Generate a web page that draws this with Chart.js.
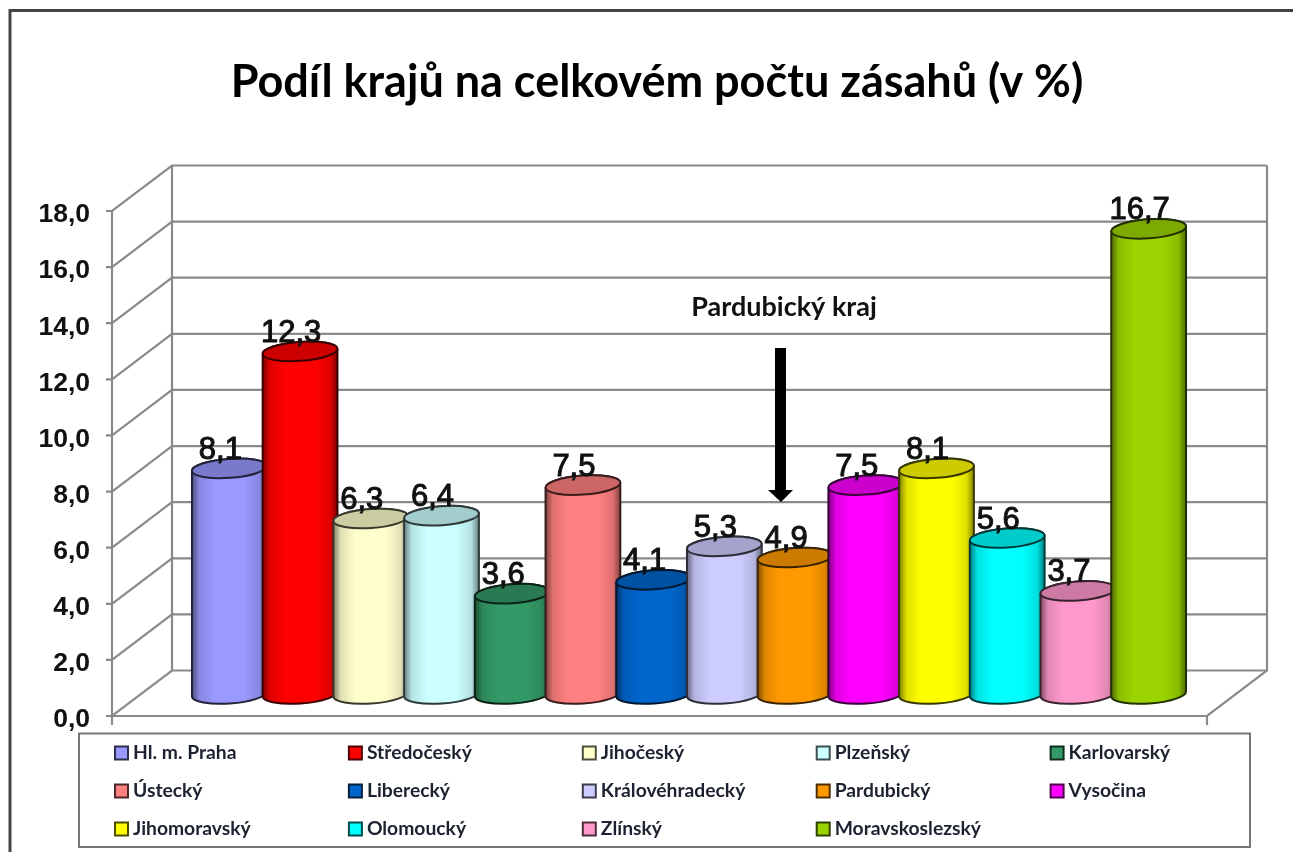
<!DOCTYPE html>
<html lang="cs">
<head>
    <meta charset="UTF-8">
    <title>Podíl krajů na celkovém počtu zásahů</title>
    <script src="https://cdn.jsdelivr.net/npm/chart.js"></script>
    <style>
        html, body { margin: 0; padding: 0; background: #fff; }
        canvas { display: block; filter: blur(0.7px); }
    </style>
</head>
<body>
    <canvas id="myChart" width="1293" height="852"></canvas>

    <script>
        const titleText = 'Podíl krajů na celkovém počtu zásahů (v %)';
        const noteText = 'Pardubický kraj';
        const regions = ['Hl. m. Praha', 'Středočeský', 'Jihočeský', 'Plzeňský', 'Karlovarský',
            'Ústecký', 'Liberecký', 'Královéhradecký', 'Pardubický', 'Vysočina',
            'Jihomoravský', 'Olomoucký', 'Zlínský', 'Moravskoslezský'];
        const shares = [8.1, 12.3, 6.3, 6.4, 3.6, 7.5, 4.1, 5.3, 4.9, 7.5, 8.1, 5.6, 3.7, 16.7];
        const barColors = ['#9999FF', '#FF0000', '#FFFFCC', '#CCFFFF', '#339966', '#FF8080', '#0066CC',
            '#CCCCFF', '#FF9900', '#FF00FF', '#FFFF00', '#00FFFF', '#FF99CC', '#9BD400'];

        const comma = (v, d) => v.toFixed(d).replace('.', ',');

        // posun barvy k cerne
        function shade(hex, f) {
            const n = parseInt(hex.slice(1), 16);
            const c = [n >> 16, (n >> 8) & 255, n & 255].map(x => Math.round(x * f));
            return `rgb(${c[0]},${c[1]},${c[2]})`;
        }

        const GRID = '#8a8a8a';
        const FRONT_X = 112, FRONT_R = 1207, DEPTH_X = 60, DEPTH_Y = 45.5;
        const RY = 9.5, TILT = 0.07;

        function drawWalls(chart) {
            const ctx = chart.ctx, y = chart.scales.y;
            ctx.save();
            ctx.strokeStyle = GRID;
            ctx.lineWidth = 2.2;
            y.ticks.forEach(t => {
                const py = y.getPixelForValue(t.value);
                ctx.beginPath();
                ctx.moveTo(FRONT_X - 6, py);
                ctx.lineTo(FRONT_X, py);
                ctx.lineTo(FRONT_X + DEPTH_X, py - DEPTH_Y);
                ctx.lineTo(FRONT_R + DEPTH_X, py - DEPTH_Y);
                ctx.stroke();
            });
            const top = y.getPixelForValue(18), bot = y.getPixelForValue(0);
            ctx.beginPath();
            ctx.moveTo(FRONT_X, bot + 9);
            ctx.lineTo(FRONT_X, top);
            ctx.moveTo(FRONT_X + DEPTH_X, top - DEPTH_Y);
            ctx.lineTo(FRONT_X + DEPTH_X, bot - DEPTH_Y);
            ctx.moveTo(FRONT_R + DEPTH_X, top - DEPTH_Y);
            ctx.lineTo(FRONT_R + DEPTH_X, bot - DEPTH_Y);
            ctx.lineTo(FRONT_R, bot);
            ctx.lineTo(FRONT_X, bot);
            ctx.moveTo(FRONT_R, bot);
            ctx.lineTo(FRONT_R, bot + 9);
            ctx.stroke();
            ctx.restore();
        }

        function drawCylinder(ctx, bar, color) {
            const rx = bar.width / 2, x0 = bar.x - rx, x1 = bar.x + rx;
            const g = ctx.createLinearGradient(x0, 0, x1, 0);
            g.addColorStop(0, shade(color, 0.5));
            g.addColorStop(0.1, shade(color, 0.88));
            g.addColorStop(0.3, color);
            g.addColorStop(0.7, color);
            g.addColorStop(0.9, shade(color, 0.88));
            g.addColorStop(1, shade(color, 0.5));

            ctx.beginPath();
            ctx.ellipse(bar.x, bar.base, rx, RY, -TILT, 0, Math.PI);
            ctx.ellipse(bar.x, bar.y, rx, RY, -TILT, Math.PI, Math.PI * 2);
            ctx.closePath();
            ctx.fillStyle = g;
            ctx.fill();
            ctx.strokeStyle = shade(color, 0.22);
            ctx.lineWidth = 2;
            ctx.stroke();

            ctx.beginPath();
            ctx.ellipse(bar.x, bar.y, rx, RY, -TILT, 0, Math.PI * 2);
            ctx.fillStyle = shade(color, 0.8);
            ctx.fill();
            ctx.stroke();
        }

        function drawLabels(chart) {
            const ctx = chart.ctx;
            ctx.save();
            ctx.font = '31px "Liberation Sans"';
            ctx.fillStyle = '#111';
            ctx.strokeStyle = '#111';
            ctx.lineWidth = 1;
            ctx.textAlign = 'center';
            ctx.textBaseline = 'alphabetic';
            chart.getDatasetMeta(0).data.forEach((bar, i) => {
                const t = comma(shares[i], 1);
                ctx.fillText(t, bar.x - 9, bar.y - RY);
                ctx.strokeText(t, bar.x - 9, bar.y - RY);
            });
            ctx.restore();
        }

        function drawFrameAndTitle(chart) {
            const ctx = chart.ctx;
            ctx.save();
            ctx.strokeStyle = '#444';
            ctx.lineWidth = 3;
            ctx.beginPath();
            ctx.moveTo(10, 852);
            ctx.lineTo(10, 10.5);
            ctx.lineTo(1293, 10.5);
            ctx.stroke();

            ctx.fillStyle = '#000';
            ctx.textAlign = 'center';
            ctx.textBaseline = 'middle';
            ctx.font = 'bold 45px Lato';
            ctx.fillText(titleText, 657, 82);
            ctx.restore();
        }

        function drawNote(chart) {
            const ctx = chart.ctx;
            ctx.save();
            ctx.fillStyle = '#111';
            ctx.textAlign = 'center';
            ctx.textBaseline = 'middle';
            ctx.font = 'bold 27px Lato';
            ctx.fillText(noteText, 784, 307);
            ctx.beginPath();
            ctx.moveTo(775, 348);
            ctx.lineTo(786, 348);
            ctx.lineTo(786, 490);
            ctx.lineTo(793, 490);
            ctx.lineTo(781, 502);
            ctx.lineTo(768, 490);
            ctx.lineTo(775, 490);
            ctx.closePath();
            ctx.fillStyle = '#000';
            ctx.fill();
            ctx.restore();
        }

        function drawLegend(chart) {
            const ctx = chart.ctx;
            ctx.save();
            ctx.strokeStyle = '#777';
            ctx.lineWidth = 2;
            ctx.strokeRect(79, 733.5, 1171, 113.5);
            ctx.font = 'bold 19.3px Lato';
            ctx.textAlign = 'left';
            ctx.textBaseline = 'middle';
            regions.forEach((name, i) => {
                const x = 115 + (i % 5) * 233.9, y = 752.5 + Math.floor(i / 5) * 38;
                ctx.fillStyle = barColors[i];
                ctx.strokeStyle = shade(barColors[i], 0.3);
                ctx.fillRect(x, y - 6, 13, 13);
                ctx.strokeRect(x, y - 6, 13, 13);
                ctx.fillStyle = '#1c2230';
                ctx.fillText(name, x + 18, y);
            });
            ctx.restore();
        }

        const cylinders = {
            id: 'cylinders',
            beforeDatasetsDraw: drawWalls,
            beforeDatasetDraw(chart, args) {
                args.meta.data.forEach((bar, i) => drawCylinder(chart.ctx, bar, barColors[i]));
                return false;
            },
            afterDatasetsDraw: drawLabels,
            afterDraw(chart) {
                drawFrameAndTitle(chart);
                drawNote(chart);
                drawLegend(chart);
            }
        };

        const myChart = new Chart(document.getElementById('myChart').getContext('2d'), {
            type: 'bar',
            data: {
                labels: regions,
                datasets: [{
                    label: 'Podíl (v %)',
                    data: shares,
                    backgroundColor: barColors,
                    yAxisID: 'yBars',
                    barPercentage: 1,
                    categoryPercentage: 1.06
                }]
            },
            options: {
                responsive: false,
                animation: false,
                layout: { padding: { top: 211, bottom: 136, left: 0, right: 109 } },
                plugins: { legend: { display: false }, title: { display: false }, tooltip: { enabled: false } },
                scales: {
                    x: { display: false },
                    y: {
                        position: 'left',
                        min: 0,
                        max: 18,
                        afterFit(s) { s.width = 194; },
                        grid: { display: false, drawTicks: false },
                        border: { display: false },
                        ticks: {
                            stepSize: 2,
                            padding: 104,
                            labelOffset: 4,
                            color: '#111',
                            font: { family: '"Liberation Sans"', size: 26.5, weight: 'bold' },
                            callback: v => comma(v, 1)
                        }
                    },
                    // valce stoji v hloubce grafu, proto vlastni osa
                    yBars: { display: false, min: -0.79, max: 17.34 }
                }
            },
            plugins: [cylinders]
        });
    </script>
</body>
</html>
